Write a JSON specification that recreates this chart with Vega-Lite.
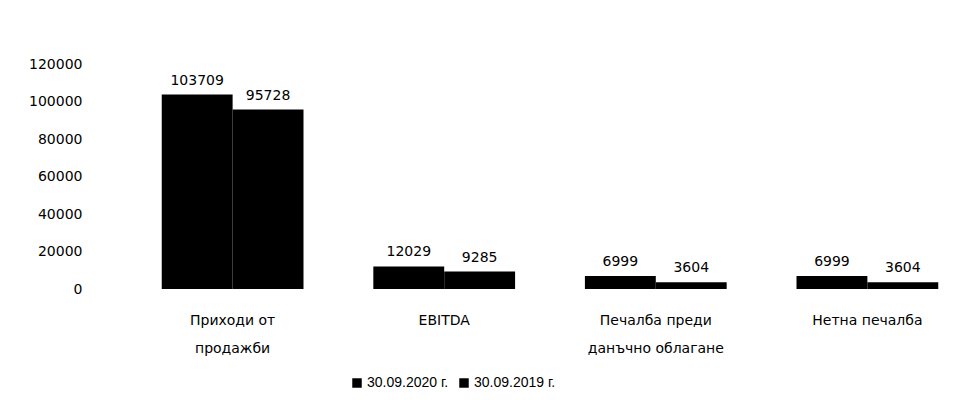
{
  "$schema": "https://vega.github.io/schema/vega-lite/v6.json",
  "autosize": {"type": "none"},
  "width": 840,
  "height": 225,
  "padding": {"left": 130, "top": 64, "right": 3, "bottom": 111},
  "background": "white",
  "config": {
    "view": {"stroke": null},
    "font": "DejaVu Sans",
    "axis": {"labelFont": "DejaVu Sans", "labelColor": "#000000", "labelFontSize": 14}
  },
  "data": {
    "values": [
      {"category": "Приходи от|продажби", "series": "30.09.2020 г.", "value": 103709},
      {"category": "Приходи от|продажби", "series": "30.09.2019 г.", "value": 95728},
      {"category": "EBITDA", "series": "30.09.2020 г.", "value": 12029},
      {"category": "EBITDA", "series": "30.09.2019 г.", "value": 9285},
      {"category": "Печалба преди|данъчно облагане", "series": "30.09.2020 г.", "value": 6999},
      {"category": "Печалба преди|данъчно облагане", "series": "30.09.2019 г.", "value": 3604},
      {"category": "Нетна печалба", "series": "30.09.2020 г.", "value": 6999},
      {"category": "Нетна печалба", "series": "30.09.2019 г.", "value": 3604}
    ]
  },
  "encoding": {
    "x": {
      "field": "category",
      "type": "nominal",
      "sort": null,
      "scale": {"paddingInner": 0.33, "paddingOuter": 0.15},
      "axis": {
        "title": null,
        "labelAngle": 0,
        "domain": false,
        "ticks": false,
        "labelPadding": 24,
        "labelLineHeight": 28,
        "labelExpr": "split(datum.label, '|')"
      }
    },
    "xOffset": {"field": "series", "type": "nominal", "sort": ["30.09.2020 г.", "30.09.2019 г."]},
    "y": {
      "field": "value",
      "type": "quantitative",
      "scale": {"domain": [0, 120000], "nice": false},
      "axis": {
        "title": null,
        "values": [0, 20000, 40000, 60000, 80000, 100000, 120000],
        "format": "d",
        "domain": false,
        "ticks": false,
        "grid": false,
        "labelPadding": 48
      }
    }
  },
  "layer": [
    {
      "mark": {"type": "bar"},
      "encoding": {
        "color": {
          "field": "series",
          "type": "nominal",
          "sort": ["30.09.2020 г.", "30.09.2019 г."],
          "scale": {"range": ["#000000", "#000000"]},
          "legend": {
            "title": null,
            "orient": "none",
            "direction": "horizontal",
            "legendX": 220,
            "legendY": 312,
            "symbolType": "square",
            "symbolSize": 90,
            "symbolOpacity": 1,
            "labelFont": "Liberation Sans",
            "labelFontSize": 14,
            "labelColor": "#000000",
            "labelOffset": 3,
            "columnPadding": 8
          }
        }
      }
    },
    {
      "mark": {"type": "text", "dy": -14, "fontSize": 14, "color": "#000000"},
      "encoding": {
        "text": {"field": "value", "type": "quantitative", "format": "d"}
      }
    }
  ]
}
